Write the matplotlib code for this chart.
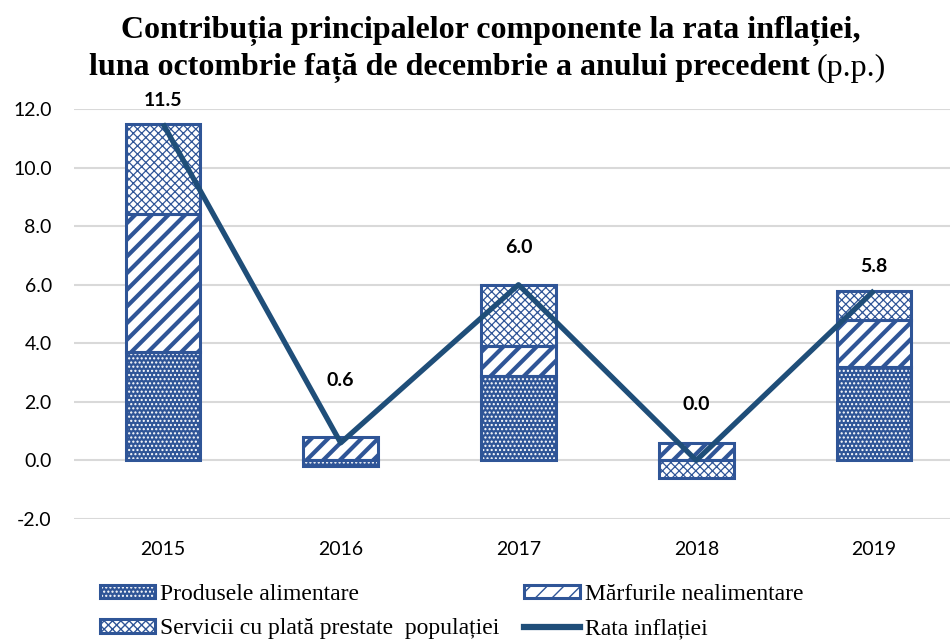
import numpy as np
import matplotlib
matplotlib.use("Agg")
import matplotlib.pyplot as plt
from matplotlib.patches import Patch
from matplotlib.lines import Line2D

years = ["2015", "2016", "2017", "2018", "2019"]
alimentare = [3.7, -0.2, 2.9, 0.0, 3.2]
nealimentare = [4.7, 0.8, 1.0, 0.6, 1.6]
servicii = [3.1, 0.0, 2.1, -0.6, 1.0]
rata = [11.5, 0.6, 6.0, 0.0, 5.8]
label_offsets = [17, 45, 27, 40, 17]  # points above the line point

yticks = [-2, 0, 2, 4, 6, 8, 10, 12]

BLUE = "#2F5597"
NAVY = "#1F4E79"

fig = plt.figure(figsize=(9.5, 6.42), dpi=100)
ax = fig.add_axes([74 / 950, 1 - 519 / 642, 889 / 950, 410 / 642])

x = np.arange(len(years))
width = 0.42

# hatch style per component: (face, hatch colour, hatch, hatch linewidth)
styles = [
    (BLUE, "white", "....", 1.0),
    ("white", BLUE, "//", 3.0),
    ("white", BLUE, "xxxx", 0.9),
]


def hatched_bar(xs, heights, bottoms, style):
    face, hcol, hatch, hlw = style
    with plt.rc_context({"hatch.color": hcol, "hatch.linewidth": hlw}):
        bars = ax.bar(xs, heights, width, bottom=bottoms, color=face,
                      edgecolor=None, hatch=hatch, linewidth=0, zorder=2)
        for b in bars:
            if hasattr(b, "set_hatch_linewidth"):
                b.set_hatch_linewidth(hlw)
    ax.bar(xs, heights, width, bottom=bottoms, fill=False,
           edgecolor=BLUE, linewidth=2.2, zorder=3)
    return bars


pos_base = np.zeros(len(years))
neg_base = np.zeros(len(years))
for vals, st in zip([alimentare, nealimentare, servicii], styles):
    vals = np.array(vals)
    bottoms = np.where(vals >= 0, pos_base, neg_base)
    keep = vals != 0
    hatched_bar(x[keep], vals[keep], bottoms[keep], st)
    pos_base = pos_base + np.where(vals > 0, vals, 0)
    neg_base = neg_base + np.where(vals < 0, vals, 0)

ax.plot(x, rata, color=NAVY, linewidth=3.8, zorder=4, solid_capstyle="butt")
for xi, v, off in zip(x, rata, label_offsets):
    ax.annotate(f"{v:.1f}", (xi, v), xytext=(0, off), textcoords="offset points",
                ha="center", va="center", fontsize=14, fontweight="bold",
                family="Lato", color="black", annotation_clip=False)

ax.set_xlim(-0.5, len(years) - 0.5)
ax.set_ylim(-2, 12)
ax.set_yticks(yticks)
ax.set_yticklabels([f"{t:.1f}" for t in yticks], family="Lato", fontsize=14)
ax.set_xticks(x)
ax.set_xticklabels(years, family="Lato", fontsize=14)
ax.tick_params(axis="both", length=0)
ax.tick_params(axis="y", pad=16)
ax.tick_params(axis="x", pad=16)
ax.grid(axis="y", color="#D9D9D9", linewidth=1.5, zorder=0)
ax.set_axisbelow(True)
for s in ax.spines.values():
    s.set_visible(False)

# title
fig.text(491 / 950, 1 - 31 / 642, "Contribuția principalelor componente la rata inflației,",
         ha="center", va="center", fontsize=23, fontweight="bold", family="Liberation Serif")
fig.text(810 / 950, 1 - 68 / 642, "luna octombrie față de decembrie a anului precedent",
         ha="right", va="center", fontsize=23, fontweight="bold", family="Liberation Serif")
fig.text(817 / 950, 1 - 68 / 642, "(p.p.)",
         ha="left", va="center", fontsize=23, family="Liberation Serif")


# legend handles
def legend_patch(style):
    face, hcol, hatch, hlw = style
    with plt.rc_context({"hatch.color": hcol, "hatch.linewidth": hlw}):
        p = Patch(facecolor=face, edgecolor=None, hatch=hatch, linewidth=0)
    if hasattr(p, "set_hatch_linewidth"):
        p.set_hatch_linewidth(hlw)
    border = Patch(fill=False, edgecolor=BLUE, linewidth=2.2)
    return (p, border)


handles = [legend_patch(styles[0]), legend_patch(styles[2]),
           legend_patch(styles[1]), Line2D([], [], color=NAVY, linewidth=4.5)]
labels = ["Produsele alimentare", "Servicii cu plată prestate  populației",
          "Mărfurile nealimentare", "Rata inflației"]
fig.legend(handles, labels, ncol=2, loc="lower left",
           bbox_to_anchor=(100 / 950, 0.004), frameon=False,
           prop={"family": "Liberation Serif", "size": 17},
           handlelength=2.35, handleheight=0.5, handletextpad=0.2,
           columnspacing=1.05, labelspacing=0.58, borderpad=0.0,
           borderaxespad=0.0)

fig.savefig("out.png", dpi=100)
